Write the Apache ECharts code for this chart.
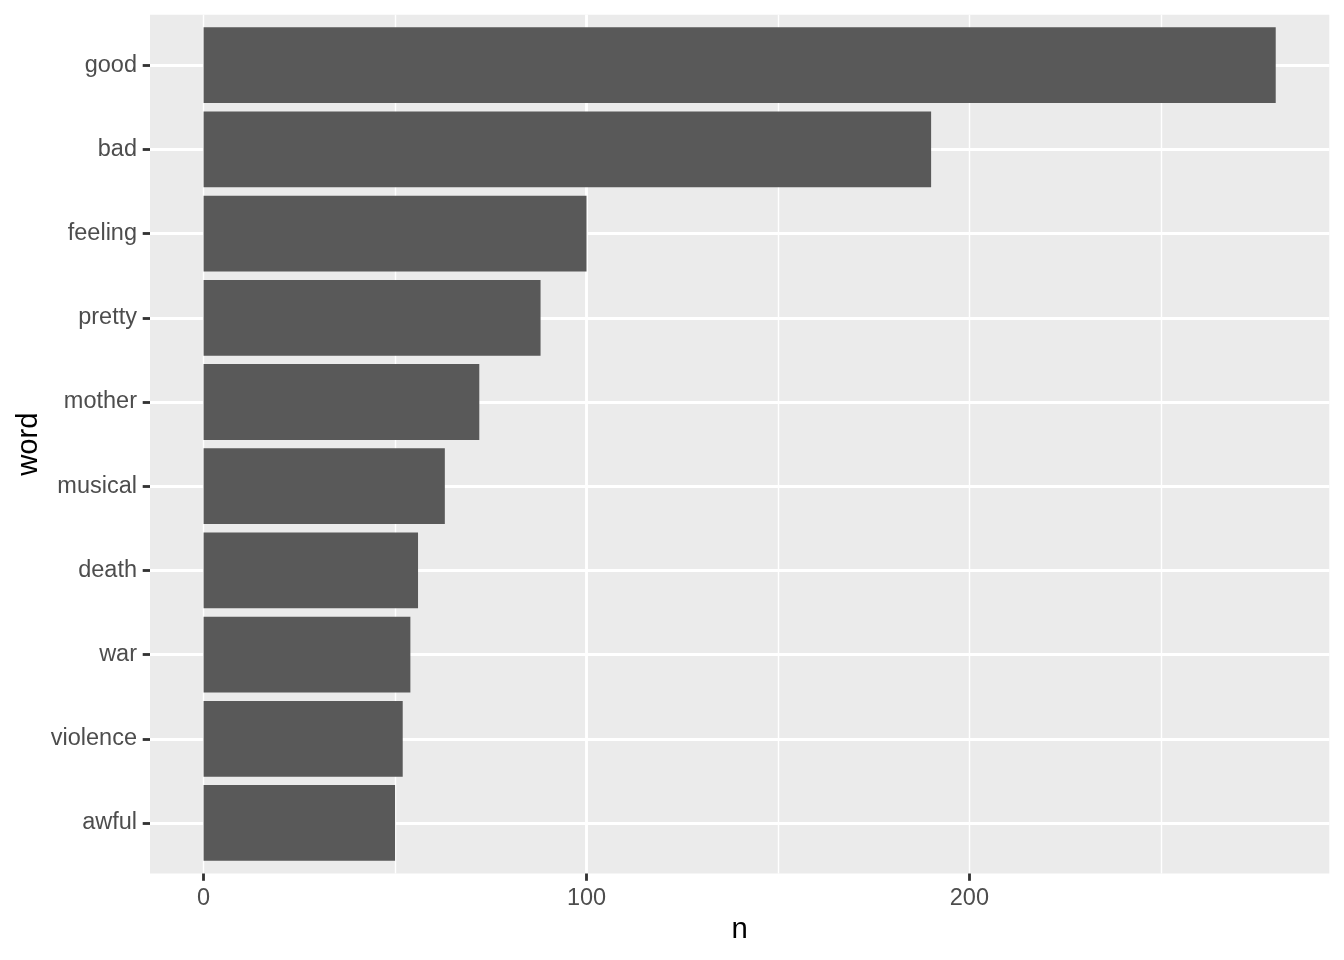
<!DOCTYPE html>
<html>
<head>
<meta charset="utf-8">
<script src="https://cdn.jsdelivr.net/npm/echarts@6/dist/echarts.min.js"></script>
<style>html,body{margin:0;padding:0;background:#fff}#c{width:1344px;height:960px}</style>
</head>
<body>
<div id="c"></div>
<script>
const words = ['good','bad','feeling','pretty','mother','musical','death','war','violence','awful'];
const counts = [280,190,100,88,72,63,56,54,52,50];
const xTicks = [0,100,200];
const xMinorTicks = [50,150,250];
const xTitle = 'n';
const yTitle = 'word';

const FONT = '"Liberation Sans", Arial, sans-serif';
const W = 1344, H = 960;
const panel = {left:150, right:14.67, top:14.67, bottom:86.5};
const nCat = words.length;
const panelH = H - panel.top - panel.bottom;
const step = panelH / (nCat + 0.2);           // ggplot discrete expansion 0.6 each side
const pad = 0.1 * step;                        // extra beyond the half-band
const xMin = -0.05 * Math.max(...counts), xMax = Math.max(...counts) * 1.05;
const major = 2.84, minor = 1.42;

const chart = echarts.init(document.getElementById('c'), null, {renderer:'canvas'});
chart.setOption({
  animation:false,
  backgroundColor:'#ffffff',
  textStyle:{fontFamily:FONT},
  grid:[
    {left:panel.left, right:panel.right, top:panel.top, bottom:panel.bottom, show:true, backgroundColor:'#EBEBEB', borderWidth:0, containLabel:false},
    {left:panel.left, right:panel.right, top:panel.top+pad, bottom:panel.bottom+pad, show:false, containLabel:false}
  ],
  xAxis:[
    {type:'value', gridIndex:0, min:xMin, max:xMax, splitNumber:3,
     axisLine:{show:false, onZero:false},
     axisTick:{show:true, customValues:xTicks, length:7.3, lineStyle:{color:'#333333', width:major}},
     axisLabel:{show:true, customValues:xTicks, color:'#4D4D4D', fontSize:23.5, fontFamily:FONT, margin:13},
     splitLine:{show:true, showMinLine:false, showMaxLine:false, lineStyle:{color:'#FFFFFF', width:major}},
     name:xTitle, nameLocation:'middle', nameGap:42, nameTextStyle:{color:'#000', fontSize:29.3, fontFamily:FONT}
    },
    {type:'value', gridIndex:0, min:xMin, max:xMax, splitNumber:6, position:'bottom',
     axisLine:{show:false, onZero:false}, axisTick:{show:false}, axisLabel:{show:false},
     splitLine:{show:true, showMinLine:false, showMaxLine:false, lineStyle:{color:'#FFFFFF', width:minor}}
    },
    {type:'value', gridIndex:1, min:xMin, max:xMax,
     axisLine:{show:false, onZero:false}, axisTick:{show:false}, axisLabel:{show:false}, splitLine:{show:false}}
  ],
  yAxis:[
    {type:'value', gridIndex:0, min:0.4, max:nCat+0.6, splitNumber:nCat,
     axisLine:{show:false, onZero:false}, axisTick:{show:false}, axisLabel:{show:false},
     splitLine:{show:true, showMinLine:false, showMaxLine:false, lineStyle:{color:'#FFFFFF', width:major}},
     name:yTitle, nameLocation:'middle', nameGap:107, nameRotate:90,
     nameTextStyle:{color:'#000', fontSize:29.3, fontFamily:FONT}
    },
    {type:'category', gridIndex:1, data:words, inverse:true, boundaryGap:true, position:'left',
     axisLine:{show:false, onZero:false},
     axisTick:{show:true, alignWithLabel:true, length:7.3, lineStyle:{color:'#333333', width:major}},
     axisLabel:{color:'#4D4D4D', fontSize:23.5, fontFamily:FONT, margin:13, padding:[4,0,0,0]},
     splitLine:{show:false}
    }
  ],
  series:[
    {type:'bar', xAxisIndex:2, yAxisIndex:1, data:counts, barWidth:'90%',
     itemStyle:{color:'#595959'}, silent:true}
  ]
});
</script>
</body>
</html>
